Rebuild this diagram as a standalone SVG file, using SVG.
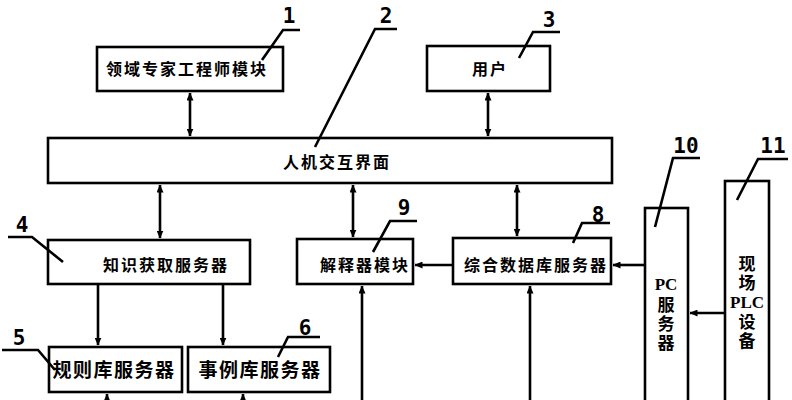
<svg xmlns="http://www.w3.org/2000/svg" width="792" height="400" viewBox="0 0 792 400">
<style>
.box{fill:#fff;stroke:#000;stroke-width:2.6}
.t{font-family:"Noto Sans CJK SC","Noto Sans",sans-serif;font-weight:700;font-size:16px;letter-spacing:2px;text-anchor:middle;fill:#000}
.tl{font-family:"Noto Sans CJK SC","Noto Sans",sans-serif;font-weight:700;font-size:19px;letter-spacing:1.5px;text-anchor:middle;fill:#000}
.vt{font-family:"Noto Sans CJK SC","Noto Sans",sans-serif;font-weight:700;font-size:17px;letter-spacing:2px;writing-mode:vertical-rl;text-orientation:upright;fill:#000}
.tv{font-family:"Liberation Serif","Noto Sans CJK SC",serif;font-weight:700;font-size:17px;text-anchor:middle;fill:#000}
.num{font-family:"DejaVu Sans Mono","Liberation Mono",monospace;font-weight:700;font-size:21px;text-anchor:middle;fill:#000}
.ld{fill:none;stroke:#000;stroke-width:2.6}
.c{fill:none;stroke:#000;stroke-width:2.6}
</style>
<defs>
<marker id="a" viewBox="0 0 8 7" markerWidth="8" markerHeight="7" refX="7.5" refY="3.5" orient="auto-start-reverse" markerUnits="userSpaceOnUse"><path d="M0,0 L8,3.5 L0,7 z" fill="#000"/></marker>
</defs>
<rect width="792" height="400" fill="#fff"/>

<g id="connectors">
<line class="c" x1="190" y1="93" x2="190" y2="136" marker-start="url(#a)" marker-end="url(#a)"/>
<line class="c" x1="488" y1="93" x2="488" y2="136" marker-start="url(#a)" marker-end="url(#a)"/>
<line class="c" x1="160" y1="185" x2="160" y2="238" marker-start="url(#a)" marker-end="url(#a)"/>
<line class="c" x1="353" y1="185" x2="353" y2="237" marker-start="url(#a)" marker-end="url(#a)"/>
<line class="c" x1="517" y1="185" x2="517" y2="236" marker-start="url(#a)" marker-end="url(#a)"/>
<line class="c" x1="453" y1="265" x2="415" y2="265" marker-end="url(#a)"/>
<line class="c" x1="645" y1="265" x2="613" y2="265" marker-end="url(#a)"/>
<line class="c" x1="725" y1="313" x2="690" y2="313" marker-end="url(#a)"/>
<line class="c" x1="98" y1="284" x2="98" y2="345" marker-end="url(#a)"/>
<line class="c" x1="223" y1="284" x2="223" y2="345" marker-end="url(#a)"/>
<line class="c" x1="107" y1="402" x2="107" y2="394" marker-end="url(#a)"/>
<line class="c" x1="243" y1="402" x2="243" y2="394" marker-end="url(#a)"/>
<line class="c" x1="362" y1="402" x2="362" y2="286" marker-end="url(#a)"/>
<line class="c" x1="530" y1="402" x2="530" y2="286" marker-end="url(#a)"/>
</g>

<g id="node1">
<rect class="box" x="97" y="47" width="186" height="44"/>
<text class="t" x="187" y="75">领域专家工程师模块</text>
<text class="num" x="289" y="23">1</text>
<polyline class="ld" points="300,30 283,30 262,60"/>
</g>

<g id="node2">
<rect class="box" x="48" y="138" width="564" height="45"/>
<text class="t" x="337" y="168">人机交互界面</text>
<text class="num" x="386" y="23">2</text>
<polyline class="ld" points="397,29 375,29 315,147"/>
</g>

<g id="node3">
<rect class="box" x="427" y="46" width="123" height="45"/>
<text class="t" x="490" y="75">用户</text>
<text class="num" x="549" y="27">3</text>
<polyline class="ld" points="560,32 533,32 519,58"/>
</g>

<g id="node4">
<rect class="box" x="48" y="240" width="202" height="44"/>
<text class="t" x="166" y="271">知识获取服务器</text>
<text class="num" x="22" y="232">4</text>
<polyline class="ld" points="8,237 32,237 63,262"/>
</g>

<g id="node5">
<rect class="box" x="49" y="347" width="133" height="45"/>
<text class="tl" x="114" y="377">规则库服务器</text>
<text class="num" x="19" y="345">5</text>
<polyline class="ld" points="2,350 38,350 55,370"/>
</g>

<g id="node6">
<rect class="box" x="188" y="347" width="142" height="45"/>
<text class="tl" x="260" y="377">事例库服务器</text>
<text class="num" x="305" y="335">6</text>
<polyline class="ld" points="320,337 288,337 278,357"/>
</g>

<g id="node8">
<rect class="box" x="453" y="238" width="158" height="46"/>
<text class="t" x="536" y="271">综合数据库服务器</text>
<text class="num" x="598" y="222">8</text>
<polyline class="ld" points="610,223 582,223 573,243"/>
</g>

<g id="node9">
<rect class="box" x="297" y="239" width="116" height="45"/>
<text class="t" x="365" y="271">解释器模块</text>
<text class="num" x="404" y="215">9</text>
<polyline class="ld" points="417,221 390,221 373,252"/>
</g>

<g id="node10">
<rect class="box" x="645" y="208" width="43" height="200"/>
<text class="tv" x="666" y="290">PC</text>
<text class="vt" x="666" y="296">服务器</text>
<text class="num" x="686" y="153">10</text>
<polyline class="ld" points="700,158 673,158 655,227"/>
</g>

<g id="node11">
<rect class="box" x="725" y="181" width="44" height="227"/>
<text class="vt" x="747" y="255">现场</text>
<text class="tv" x="747" y="308">PLC</text>
<text class="vt" x="747" y="313">设备</text>
<text class="num" x="773" y="153">11</text>
<polyline class="ld" points="788,159 758,159 737,200"/>
</g>
</svg>
